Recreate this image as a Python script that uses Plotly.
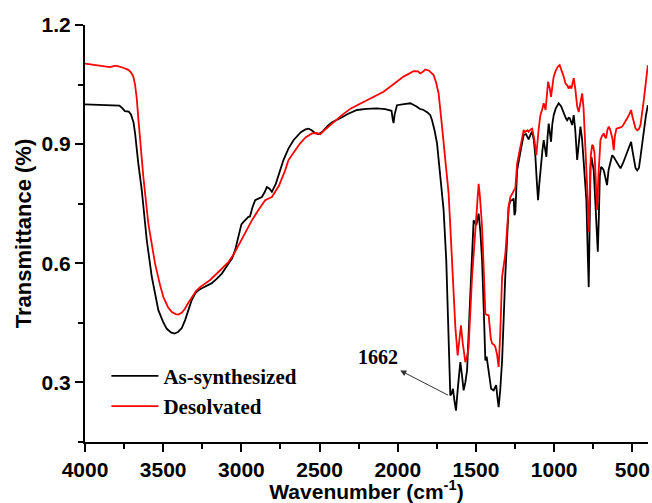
import plotly.graph_objects as go

# As-synthesized (black)
wn_as = [4000,3950,3900,3850,3800,3780,3760,3745,3720,3706,3690,3680,3659,3637,3605,3573,3531,3500,3477,3450,3428,3405,3381,3360,3339,3318,3296,3275,3253,3220,3189,3160,3125,3083,3060,3040,3020,3000,2985,2970,2955,2945,2930,2912,2890,2869,2850,2837,2820,2805,2780,2750,2731,2700,2667,2620,2590,2571,2550,2530,2507,2480,2450,2420,2390,2368,2320,2261,2200,2133,2080,2059,2040,2032,2027,2020,2010,2005,1960,1920,1880,1860,1835,1810,1792,1781,1765,1749,1728,1707,1690,1675,1664,1656,1647,1638,1628,1615,1600,1590,1579,1568,1557,1536,1515,1498,1483,1472,1461,1450,1440,1432,1425,1415,1403,1387,1371,1362,1355,1345,1333,1312,1291,1280,1269,1259,1254,1248,1237,1216,1195,1180,1163,1150,1141,1130,1120,1110,1103,1095,1084,1075,1067,1058,1050,1042,1035,1028,1020,1012,1003,990,971,955,939,925,917,908,900,892,885,875,865,853,842,832,822,811,800,794,785,779,773,768,762,755,747,735,728,721,714,708,700,692,683,672,662,652,644,636,629,620,608,590,576,560,544,533,523,513,508,500,491,480,469,458,448,438,427,414,401]
t_as = [1.000,0.999,0.998,0.997,0.996,0.997,0.990,0.983,0.982,0.975,0.955,0.928,0.851,0.784,0.658,0.566,0.482,0.452,0.435,0.426,0.423,0.427,0.437,0.457,0.482,0.507,0.524,0.532,0.537,0.543,0.550,0.560,0.574,0.599,0.612,0.633,0.665,0.698,0.705,0.712,0.717,0.718,0.740,0.759,0.764,0.767,0.780,0.792,0.788,0.780,0.800,0.835,0.860,0.888,0.910,0.930,0.937,0.939,0.935,0.928,0.925,0.932,0.945,0.955,0.962,0.965,0.976,0.986,0.989,0.990,0.988,0.986,0.984,0.962,0.953,0.975,0.996,0.998,1.001,1.003,0.995,0.989,0.986,0.980,0.973,0.960,0.935,0.902,0.818,0.734,0.608,0.440,0.267,0.272,0.284,0.255,0.229,0.290,0.351,0.320,0.280,0.300,0.330,0.524,0.708,0.696,0.725,0.680,0.608,0.480,0.355,0.365,0.343,0.310,0.284,0.280,0.293,0.260,0.238,0.280,0.355,0.574,0.742,0.758,0.759,0.763,0.721,0.730,0.834,0.880,0.923,0.925,0.912,0.925,0.931,0.910,0.868,0.800,0.759,0.800,0.860,0.885,0.910,0.890,0.868,0.920,0.952,0.930,0.906,0.950,0.973,0.990,1.003,0.995,0.977,0.965,0.960,0.966,0.965,0.958,0.948,0.973,0.935,0.860,0.900,0.944,0.915,0.860,0.800,0.759,0.620,0.540,0.700,0.840,0.868,0.855,0.834,0.740,0.670,0.629,0.720,0.820,0.843,0.840,0.834,0.815,0.797,0.835,0.847,0.865,0.872,0.868,0.860,0.848,0.839,0.852,0.868,0.880,0.889,0.900,0.906,0.885,0.860,0.840,0.834,0.840,0.868,0.900,0.935,0.970,0.998]

# Desolvated (red)
wn_de = [4000,3950,3900,3870,3840,3810,3797,3760,3735,3723,3705,3691,3680,3669,3658,3648,3627,3595,3552,3520,3499,3470,3445,3420,3403,3380,3360,3340,3317,3290,3264,3200,3147,3110,3083,3050,3019,2980,2933,2890,2848,2805,2760,2720,2699,2660,2624,2590,2549,2520,2496,2470,2432,2400,2357,2300,2219,2150,2091,2030,1963,1930,1899,1870,1856,1840,1824,1800,1785,1771,1755,1739,1717,1696,1675,1664,1647,1632,1617,1605,1596,1585,1575,1568,1557,1547,1525,1504,1490,1483,1475,1461,1450,1440,1430,1419,1405,1397,1385,1376,1365,1355,1345,1333,1312,1291,1280,1269,1259,1248,1237,1227,1210,1195,1184,1170,1163,1150,1141,1128,1114,1100,1088,1075,1067,1055,1048,1039,1028,1020,1010,1003,990,977,965,950,939,928,917,907,898,890,882,875,865,853,843,832,821,812,800,790,779,773,766,757,750,742,734,725,717,710,704,695,683,675,668,660,651,643,635,628,619,612,602,590,576,565,550,533,520,508,500,491,480,469,458,448,438,427,414,401]
t_de = [1.103,1.100,1.097,1.095,1.094,1.097,1.097,1.093,1.089,1.087,1.080,1.070,1.050,1.015,0.960,0.910,0.818,0.700,0.599,0.545,0.515,0.490,0.477,0.472,0.471,0.476,0.486,0.500,0.515,0.530,0.540,0.558,0.578,0.592,0.603,0.622,0.645,0.672,0.708,0.735,0.759,0.767,0.795,0.834,0.860,0.882,0.902,0.917,0.927,0.928,0.925,0.935,0.948,0.958,0.973,0.990,1.007,1.020,1.032,1.050,1.070,1.077,1.084,1.083,1.078,1.082,1.088,1.085,1.080,1.074,1.055,1.028,0.944,0.860,0.776,0.692,0.566,0.440,0.368,0.415,0.444,0.400,0.365,0.351,0.365,0.389,0.566,0.692,0.765,0.800,0.770,0.692,0.580,0.473,0.470,0.469,0.410,0.398,0.395,0.389,0.370,0.339,0.420,0.566,0.624,0.742,0.767,0.776,0.780,0.790,0.851,0.868,0.905,0.935,0.931,0.935,0.931,0.937,0.939,0.915,0.872,0.935,0.973,0.990,1.003,0.986,1.020,1.057,1.040,1.019,1.050,1.070,1.085,1.095,1.099,1.085,1.070,1.053,1.048,1.040,1.047,1.040,1.055,1.066,1.040,0.995,0.981,1.010,1.028,0.990,0.902,0.800,0.679,0.760,0.870,0.898,0.895,0.877,0.820,0.734,0.820,0.880,0.910,0.920,0.927,0.918,0.915,0.935,0.944,0.938,0.925,0.915,0.885,0.920,0.939,0.940,0.942,0.944,0.953,0.965,0.975,0.986,0.970,0.956,0.940,0.935,0.938,0.948,0.975,1.011,1.055,1.099]

series_names = ["As-synthesized", "Desolvated"]
x_ticks = [4000, 3500, 3000, 2500, 2000, 1500, 1000, 500]
y_ticks = [0.3, 0.6, 0.9, 1.2]
peak_label = "1662"

fig = go.Figure()
fig.add_trace(go.Scatter(x=wn_as, y=t_as, mode="lines", name=series_names[0],
                         line=dict(color="black", width=1.8)))
fig.add_trace(go.Scatter(x=wn_de, y=t_de, mode="lines", name=series_names[1],
                         line=dict(color="#ff0000", width=1.8)))

tickfont = dict(family="Liberation Sans", size=21, color="black", weight="bold")
fig.update_layout(
    width=652, height=503,
    margin=dict(l=85, r=4, t=25, b=61, autoexpand=False),
    plot_bgcolor="white", paper_bgcolor="white",
    showlegend=True,
    legend=dict(x=0.038, y=0.207, xanchor="left", yanchor="top",
                bgcolor="rgba(0,0,0,0)", itemwidth=47,
                font=dict(family="Liberation Serif", size=21, color="black", weight="bold"),
                tracegroupgap=0),
    xaxis=dict(range=[4000, 400], tickvals=x_ticks, ticks="outside", ticklen=8, tickwidth=1.5,
               tickcolor="black", showline=True, linecolor="black", linewidth=2,
               showgrid=False, zeroline=False, tickfont=tickfont, automargin=False,
               minor=dict(dtick=250, tick0=0, ticks="outside", ticklen=5, tickwidth=1.5,
                          tickcolor="black", showgrid=False),
               title=dict(text="Wavenumber (cm<sup>-1</sup>)",
                          font=dict(family="Liberation Sans", size=21, color="black", weight="bold"))),
    yaxis=dict(range=[0.15, 1.2], tickvals=y_ticks, tickformat=".1f", ticks="outside", ticklen=8,
               tickwidth=1.5, tickcolor="black", showline=True, linecolor="black", linewidth=2,
               showgrid=False, zeroline=False, tickfont=tickfont, automargin=False,
               minor=dict(dtick=0.15, tick0=0, ticks="outside", ticklen=5, tickwidth=1.5,
                          tickcolor="black", showgrid=False),
               title=dict(text="Transmittance (%)", standoff=4,
                          font=dict(family="Liberation Sans", size=22, color="black", weight="bold"))),
)

fig.add_annotation(x=1984, y=0.330, ax=1669, ay=0.266, axref="x", ayref="y", text="",
                   showarrow=True, arrowhead=2, arrowsize=1.2, arrowwidth=1, arrowcolor="#333333")
fig.add_annotation(x=2125, y=0.364, text=peak_label, showarrow=False,
                   font=dict(family="Liberation Serif", size=20, color="black", weight="bold"))

fig.write_html("out.html", config={"displayModeBar": False},
               post_script="document.body.style.margin='0';document.body.style.overflow='hidden';")
